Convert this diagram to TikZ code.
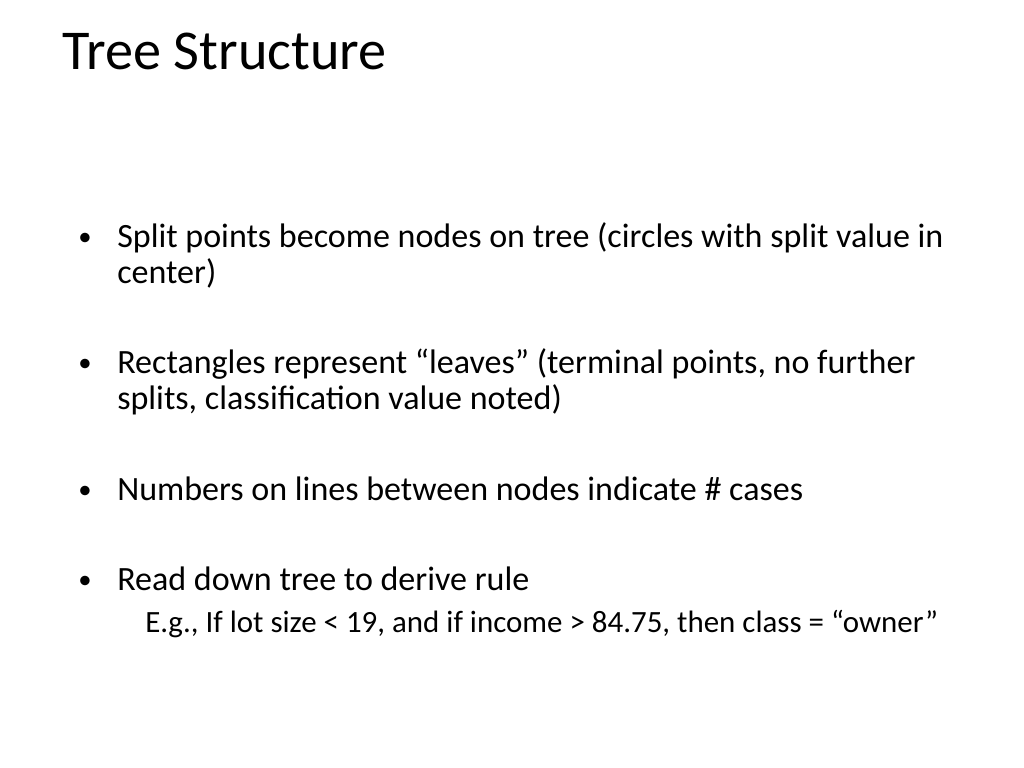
\documentclass[tikz,border=0pt]{standalone}
\usepackage{fontspec}
\setmainfont{Carlito}
\begin{document}
\begin{tikzpicture}[x=0.025cm,y=-0.025cm]
\tikzset{body/.style={anchor=base west, inner sep=0pt, font=\fontsize{24.2}{29}\selectfont},
         dot/.style={anchor=base west, inner sep=0pt, font=\fontsize{19}{23}\selectfont},
         sub/.style={anchor=base west, inner sep=0pt, font=\fontsize{22}{26}\selectfont}}
\def\xb{78}
\def\xt{117}

\useasboundingbox (0,0) rectangle (1024,768);

\node[anchor=base west, inner sep=0pt, font=\fontsize{40}{48}\selectfont] (title) at (62,70) {Tree Structure};

\node[dot] (b1) at (\xb,245) {\textbullet};
\node[body] (t1) at (\xt,247) {Split points become nodes on tree (circles with split value in};
\node[body] (t1b) at (\xt,283) {center)};

\node[dot] (b2) at (\xb,371) {\textbullet};
\node[body] (t2) at (\xt,373) {Rectangles represent “leaves” (terminal points, no further};
\node[body] (t2b) at (\xt,409) {splits, classification value noted)};

\node[dot] (b3) at (\xb,498) {\textbullet};
\node[body] (t3) at (\xt,500) {Numbers on lines between nodes indicate \# cases};

\node[dot] (b4) at (\xb,588) {\textbullet};
\node[body] (t4) at (\xt,590) {Read down tree to derive rule};
\node[sub] (t4b) at (145,632) {E.g., If lot size < 19, and if income > 84.75, then class = “owner”};

\end{tikzpicture}
\end{document}
